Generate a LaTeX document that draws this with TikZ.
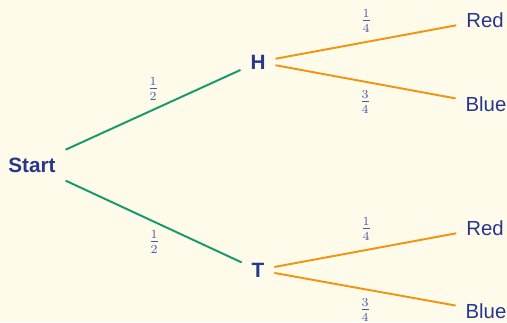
\documentclass[tikz,border=0pt]{standalone}
\usepackage{fontspec}
\setmainfont{Liberation Sans}
\usetikzlibrary{positioning}
\definecolor{paper}{HTML}{FEFBEA}
\definecolor{inkblue}{HTML}{26378C}
\definecolor{fracblue}{HTML}{4A5AA6}
\definecolor{coingreen}{HTML}{14996B}
\definecolor{ballorange}{HTML}{F29314}

\begin{document}
\begin{tikzpicture}[
  x=0.02cm, y=-0.02cm,
  stage/.style={font=\fontsize{11.8}{14}\selectfont\bfseries, text=inkblue, text height=8.5pt, text depth=0pt, inner xsep=5.5pt, minimum height=1cm},
  leaf/.style={font=\fontsize{11.6}{14}\selectfont, text=inkblue, text height=8.4pt, text depth=0pt, inner xsep=5.5pt, minimum height=1cm},
  prob/.style={font=\fontsize{10.6}{12}\selectfont, text=fracblue, inner sep=0pt},
  coin/.style={draw=coingreen, line width=1.1pt},
  ball/.style={draw=ballorange, line width=1.1pt}
]

% Background and page size
\fill[paper] (0,0) rectangle (507,322);
\useasboundingbox (0,0) rectangle (507,322);

% Root and first toss
\node[stage] (start) at (32,165) {Start};
\node[stage] (h) at (258,62) {H};
\node[stage] (t) at (258,270) {T};

% Second stage outcomes
\node[leaf] (hred) at (485,20) {Red};
\node[leaf] (hblue) at (486,104) {Blue};
\node[leaf] (tred) at (485,228) {Red};
\node[leaf] (tblue) at (486,311) {Blue};

% Coin branches
\draw[coin] (start) -- (h);
\draw[coin] (start) -- (t);

% Ball branches
\draw[ball] (h) -- (hred);
\draw[ball] (h) -- (hblue);
\draw[ball] (t) -- (tred);
\draw[ball] (t) -- (tblue);

% Probabilities
\node[prob] (ph) at (153,89) {$\frac{1}{2}$};
\node[prob] (pt) at (154,242) {$\frac{1}{2}$};
\node[prob] (phr) at (366,21) {$\frac{1}{4}$};
\node[prob] (phb) at (365,102) {$\frac{3}{4}$};
\node[prob] (ptr) at (366,229) {$\frac{1}{4}$};
\node[prob] (ptb) at (365,310) {$\frac{3}{4}$};

\end{tikzpicture}
\end{document}
